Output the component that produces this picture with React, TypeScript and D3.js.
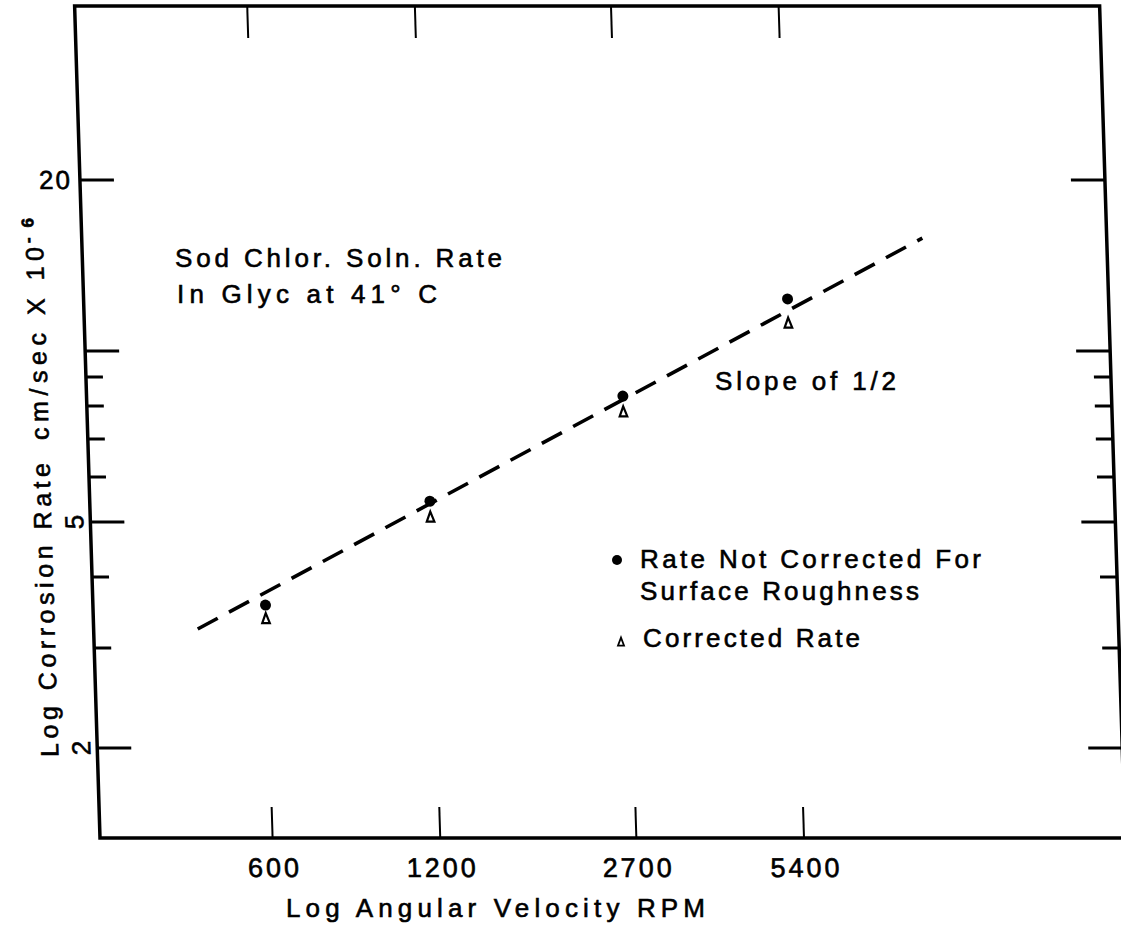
import React from "react";
import * as d3 from "d3";

// ---- data ----
const rpm = [600, 1200, 2700, 5400];
const rateUncorrected = [3.57, 5.44, 8.33, 12.35];
const rateCorrected = [3.38, 5.1, 7.81, 11.2];
const fitRpm = [452, 9500];
const fitRate = [3.24, 15.8];

const xTicks = [600, 1200, 2700, 5400];
const xTickLabels = ["600", "1200", "2700", "5400"];
const yMajorTicks = [2, 5, 10, 20];
const yMinorTicks = [3, 4, 6, 7, 8, 9];
const yTickLabels = ["20", "5", "2"];
const yTickLabelValues = [20, 5, 2];
const yUprightLabels = ["20"];

const annotation1 = "Sod  Chlor.  Soln. Rate";
const annotation2 = "In  Glyc  at  41° C";
const slopeText = "Slope of 1/2";
const legend1a = "Rate Not Corrected For";
const legend1b = "Surface Roughness";
const legend2 = "Corrected Rate";
const xTitle = "Log  Angular  Velocity  RPM";
const yTitleA = "Log  Corrosion  Rate";
const yTitleB = "cm/sec  X  10";
const yTitleSup = "-6";

// ---- layout ----
const W = 1121;
const H = 925;
const SHEAR = 0.0305;
const BASE_Y = 838;
const TOP_Y = 6;
const LEFT_X = 100;
const RIGHT_X = 1125;
const FONT = "'Liberation Sans', Arial, sans-serif";
const TEXT_STROKE = 0.6;

const xScale = d3.scaleLog().domain([600, 5400]).range([272.6, 804]);
const yScale = d3.scaleLog().domain([2, 20]).range([748, 180]);

const triPath = "M0,-5.5 L3.8,4.5 L-3.8,4.5 Z";

export default function App() {
  const line = d3
    .line<number>()
    .x((_, i) => xScale(fitRpm[i]))
    .y((d) => yScale(d));
  const skew = `matrix(1 0 ${SHEAR} 1 ${-SHEAR * BASE_Y} 0)`;
  const frame = `M${LEFT_X},${TOP_Y} L${RIGHT_X},${TOP_Y} L${RIGHT_X},${BASE_Y} L${LEFT_X},${BASE_Y} Z`;

  const yTick = (v: number, len: number, key: string) => {
    const y = yScale(v);
    return (
      <g key={key}>
        <line x1={LEFT_X} x2={LEFT_X + len} y1={y} y2={y} />
        <line x1={RIGHT_X - len} x2={RIGHT_X} y1={y} y2={y} />
      </g>
    );
  };

  return (
    <svg
      width={W}
      height={H}
      style={{ position: "absolute", left: 0, top: 0, display: "block", background: "#fff" }}
      fontFamily={FONT}
    >
      <rect x={0} y={0} width={W} height={H} fill="#fff" />
      <g transform={skew}>
        <path d={frame} fill="none" stroke="#000" strokeWidth={3.5} />
        <g stroke="#000" strokeWidth={3}>
          {yMajorTicks.map((v) => yTick(v, 34, "M" + v))}
          {yMinorTicks.map((v) => yTick(v, 17, "m" + v))}
        </g>
        <g stroke="#000" strokeWidth={2}>
          {xTicks.map((v) => (
            <g key={v}>
              <line x1={xScale(v)} x2={xScale(v)} y1={BASE_Y} y2={BASE_Y - 31} />
              <line x1={xScale(v)} x2={xScale(v)} y1={TOP_Y} y2={TOP_Y + 32} />
            </g>
          ))}
        </g>
        {/* y tick labels */}
        <g fontSize={26} fill="#000" stroke="#000" strokeWidth={TEXT_STROKE}>
          {yTickLabels.map((t, i) => {
            const y = yScale(yTickLabelValues[i]);
            if (yUprightLabels.includes(t)) {
              return (
                <text key={t} x={LEFT_X - 8} y={y + 9} textAnchor="end" letterSpacing={2}>
                  {t}
                </text>
              );
            }
            return (
              <text
                key={t}
                transform={`translate(${LEFT_X - 16},${y}) rotate(-90)`}
                textAnchor="middle"
                dominantBaseline="central"
              >
                {t}
              </text>
            );
          })}
        </g>
        {/* x tick labels */}
        <g fontSize={27} fill="#000" stroke="#000" strokeWidth={TEXT_STROKE} textAnchor="middle" letterSpacing={3}>
          {xTickLabels.map((t, i) => (
            <text key={t} x={xScale(xTicks[i]) + 1.5} y={877}>
              {t}
            </text>
          ))}
        </g>
        {/* y title */}
        <g fill="#000" stroke="#000" strokeWidth={TEXT_STROKE}>
          <text transform={`translate(61,757) rotate(-90)`} fontSize={25} textLength={294} lengthAdjust="spacing">
            {yTitleA}
          </text>
          <text transform={`translate(61,440) rotate(-90)`} fontSize={25} textLength={193} lengthAdjust="spacing">
            {yTitleB}
          </text>
          <text transform={`translate(52,243) rotate(-90)`} fontSize={17} textLength={25} lengthAdjust="spacing" fontWeight="bold">
            {yTitleSup}
          </text>
        </g>
        {/* fit line */}
        <path
          d={line(fitRate) || ""}
          fill="none"
          stroke="#000"
          strokeWidth={3.5}
          strokeDasharray="23 13"
        />
        {/* data */}
        {rpm.map((r, i) => (
          <circle key={"c" + r} cx={xScale(r)} cy={yScale(rateUncorrected[i])} r={5.5} fill="#000" />
        ))}
        {rpm.map((r, i) => (
          <path
            key={"t" + r}
            d={triPath}
            transform={`translate(${xScale(r)},${yScale(rateCorrected[i])})`}
            fill="#fff"
            stroke="#000"
            strokeWidth={2.2}
          />
        ))}
      </g>

      {/* annotations in page coordinates */}
      <g fill="#000" stroke="#000" strokeWidth={TEXT_STROKE} fontSize={26}>
        <text x={175} y={267} textLength={327} lengthAdjust="spacing">{annotation1}</text>
        <text x={177} y={303} textLength={260} lengthAdjust="spacing">{annotation2}</text>
        <text x={715} y={390} textLength={181} lengthAdjust="spacing">{slopeText}</text>
        <text x={640} y={568} textLength={341} lengthAdjust="spacing">{legend1a}</text>
        <text x={640} y={600} textLength={279} lengthAdjust="spacing">{legend1b}</text>
        <text x={643} y={647} textLength={217} lengthAdjust="spacing">{legend2}</text>
        <text x={286} y={917} textLength={419} lengthAdjust="spacing">{xTitle}</text>
      </g>
      <circle cx={617} cy={560} r={5} fill="#000" />
      <path d={triPath} transform="translate(621,642) scale(0.8)" fill="#fff" stroke="#000" strokeWidth={2.2} />
    </svg>
  );
}
